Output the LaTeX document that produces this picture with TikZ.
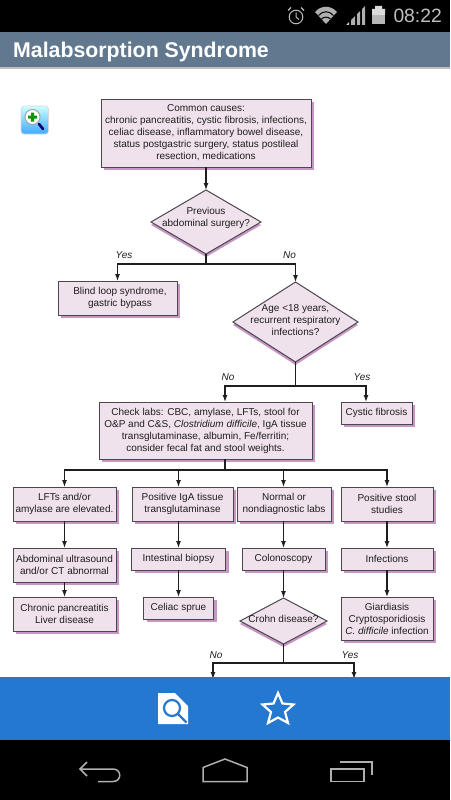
\documentclass[tikz,border=0pt]{standalone}
\usepackage{fontspec}
\setmainfont{Liberation Sans}
\usetikzlibrary{arrows.meta,shapes.geometric,shadows}
\definecolor{BoxPink}{RGB}{240,226,236}
\definecolor{ShadePink}{RGB}{200,150,195}
\definecolor{BoxEdge}{RGB}{75,70,80}
\definecolor{InkGray}{RGB}{30,30,30}
\definecolor{TitleSlate}{RGB}{97,120,143}
\definecolor{BarBlue}{RGB}{36,120,208}
\definecolor{IconGray}{RGB}{175,175,175}
\tikzset{
  labbox/.style={draw=BoxEdge,line width=1pt,fill=BoxPink,text=InkGray,align=center,inner sep=0pt,outer sep=0pt,
    font=\fontsize{10}{12}\selectfont,general shadow={fill=ShadePink,shadow xshift=3pt,shadow yshift=-3pt}},
  askbox/.style={shape=diamond,draw=BoxEdge,line width=1pt,fill=BoxPink,text=InkGray,align=center,inner sep=-12pt,outer sep=0pt,
    aspect=1.7,font=\fontsize{10}{12}\selectfont,general shadow={fill=ShadePink,shadow xshift=0pt,shadow yshift=-3pt}},
  pathlabel/.style={font=\fontsize{10}{12}\selectfont\itshape,text=InkGray},
  flow/.style={draw=InkGray,line width=1.25pt},
  flowto/.style={flow,-{Latex[length=7pt,width=5pt]}},
  navicon/.style={draw=IconGray,line width=1.5pt},
}
\begin{document}
\begin{tikzpicture}[x=1pt,y=-1pt]
  \useasboundingbox (0,0) rectangle (450,800);
  \fill[white] (0,0) rectangle (450,800);
  \node[labbox,minimum width=210pt,minimum height=68pt] (causes) at (206,133)
  {Common causes:\\chronic pancreatitis, cystic fibrosis, infections,\\celiac disease, inflammatory bowel disease,\\status postgastric surgery, status postileal\\resection, medications};
  \node[askbox,minimum width=110pt,minimum height=64pt] (surgery) at (206,222) {Previous\\abdominal surgery?\\[-2pt]\mbox{}};
  \node[labbox,minimum width=119pt,minimum height=34pt] (blind) at (117.5,298) {\hspace*{5pt}Blind loop syndrome,\\\hspace*{5pt}gastric bypass};
  \node[askbox,minimum width=125pt,minimum height=80pt] (age) at (295.5,322) {\mbox{}\\[-9pt]Age <18 years,\\recurrent respiratory\\infections?};
  \node[labbox,minimum width=213pt,minimum height=57pt] (labs) at (205.5,430.5)
  {Check labs: CBC, amylase, LFTs, stool for\\O\&P and C\&S, \textit{Clostridium difficile}, IgA tissue\\transglutaminase, albumin, Fe/ferritin;\\consider fecal fat and stool weights.};
  \node[labbox,minimum width=71pt,minimum height=22pt] (cystic) at (376.5,413) {Cystic fibrosis};

  \node[labbox,minimum width=103pt,minimum height=34pt] (lfts) at (64.5,504) {LFTs and/or\\amylase are elevated.};
  \node[labbox,minimum width=101pt,minimum height=34pt] (iga) at (182.5,504) {Positive IgA tissue\\transglutaminase};
  \node[labbox,minimum width=94pt,minimum height=34pt] (normal) at (284,504) {Normal or\\nondiagnostic labs};
  \node[labbox,minimum width=92pt,minimum height=34pt] (stool) at (387,504) {Positive stool\\studies};

  \node[labbox,minimum width=103pt,minimum height=34pt] (ultra) at (64.5,565) {Abdominal ultrasound\\and/or CT abnormal};
  \node[labbox,minimum width=94pt,minimum height=22pt] (biopsy) at (178.5,559) {Intestinal biopsy};
  \node[labbox,minimum width=83pt,minimum height=22pt] (colon) at (283.5,559) {Colonoscopy};
  \node[labbox,minimum width=92pt,minimum height=22pt] (infect) at (387,559) {Infections};

  \node[labbox,minimum width=103pt,minimum height=34pt] (chronic) at (64.5,614) {Chronic pancreatitis\\Liver disease};
  \node[labbox,minimum width=70pt,minimum height=22pt] (celiac) at (178.5,608) {Celiac sprue};
  \node[askbox,minimum width=87pt,minimum height=46pt] (crohn) at (283.5,621) {\mbox{}\\[-9pt]Crohn disease?};
  \node[labbox,minimum width=92pt,minimum height=43pt] (giardia) at (387,618.5) {Giardiasis\\Cryptosporidiosis\\\textit{C. difficile} infection};

  \coordinate (splitA) at (206,264);
  \coordinate (splitB) at (295.5,386);
  \coordinate (labsin) at (225,402);
  \coordinate (cysticin) at (366,402);
  \coordinate (labsout) at (225,459);
  \coordinate (splitC) at (225,470);
  \coordinate (splitD) at (283.5,663);
  \coordinate (crohnno) at (213,679);
  \coordinate (crohnyes) at (354,679);

  \draw[flowto] (causes.south) -- (surgery.north);
  \draw[flow] (surgery.south) -- (splitA);
  \draw[flowto] (splitA) -| (blind.north);
  \draw[flowto] (splitA) -| (age.north);
  \draw[flow] (age.south) -- (splitB);
  \draw[flowto] (splitB) -| (labsin);
  \draw[flowto] (splitB) -| (cysticin);
  \draw[flow] (labsout) -- (splitC);
  \draw[flowto] (splitC) -| (lfts.north);
  \draw[flowto] (splitC) -| (iga.north -| biopsy.north);
  \draw[flowto] (splitC) -| (normal.north -| colon.north);
  \draw[flowto] (splitC) -| (stool.north);
  \draw[flowto] (lfts) -- (ultra);
  \draw[flowto] (ultra) -- (chronic);
  \draw[flowto] (iga.south -| biopsy.north) -- (biopsy.north);
  \draw[flowto] (biopsy.south) -- (celiac.north);
  \draw[flowto] (normal.south -| colon.north) -- (colon.north);
  \draw[flowto] (colon) -- (crohn);
  \draw[flowto] (stool) -- (infect);
  \draw[flowto] (infect) -- (giardia);
  \draw[flow] (crohn.south) -- (splitD);
  \draw[flowto] (splitD) -| (crohnno);
  \draw[flowto] (splitD) -| (crohnyes);

  \node[pathlabel] (yesA) at (124,255) {Yes};
  \node[pathlabel] (noA) at (289.5,255) {No};
  \node[pathlabel] (noB) at (228,377.5) {No};
  \node[pathlabel] (yesB) at (362,377.5) {Yes};
  \node[pathlabel] (noC) at (216,655.5) {No};
  \node[pathlabel] (yesC) at (350,655.5) {Yes};

  % phone chrome
  \fill[black] (0,0) rectangle (450,32);
  \fill[TitleSlate] (0,32) rectangle (450,68);
  \fill[black!25] (0,67.5) rectangle (450,69);
  \node[anchor=west,inner sep=0pt,text=white,font=\fontsize{21.3}{24}\selectfont\bfseries] (title) at (13,51.5) {Malabsorption Syndrome};
  \node[anchor=east,inner sep=0pt,text=IconGray!80!white,font=\fontsize{19.3}{22}\selectfont] (clock) at (442,16) {08:22};
  \draw[IconGray!85!white,line width=1pt] (296,17) circle (6.8pt) (296,12.5) -- (296,17) -- (299,19.5);
  \draw[IconGray!85!white,line width=1.2pt] (288,10.5) -- (291,7.5) (304,10.5) -- (301,7.5);
  \fill[IconGray] (315,12) .. controls (321,5) and (331,5) .. (337,12) -- (326,24) -- cycle;
  \draw[black,line width=1pt] (318.5,15.5) .. controls (323,10.5) and (329,10.5) .. (333.5,15.5) (321.5,19) .. controls (324,16.5) and (328,16.5) .. (330.5,19);
  \fill[IconGray!70] (346,25) -- (349,22) -- (349,25) -- cycle;
  \fill[IconGray] (351,25) -- (351,20) -- (355,16) -- (355,25) -- cycle;
  \fill[IconGray] (357,25) -- (357,14) -- (360,11) -- (360,25) -- cycle;
  \fill[IconGray] (362,25) -- (362,9) -- (365,6) -- (365,25) -- cycle;
  \fill[IconGray!45] (375,6) rectangle (382,9) (372,9) rectangle (385,15);
  \fill[IconGray!90!white] (372,15) rectangle (385,24);

  \fill[BarBlue] (0,677) rectangle (450,740);
  \fill[black] (0,740) rectangle (450,800);

  % zoom button
  \draw[black!15,rounded corners=3pt,top color=white!80!cyan,bottom color=cyan!55!blue!75,line width=0.6pt] (21,106) rectangle (48.5,134);
  \draw[black!60!blue,line width=2.6pt,line cap=round] (39,124) -- (43,129);
  \fill[white,draw=black!35,line width=1pt] (32.5,117) circle (7.5pt);
  \fill[green!60!black] (31,112.5) rectangle (34,121.5) (28,115.5) rectangle (37,118.5);

  % bottom bar icons
  \fill[white] (158,693) -- (175,693) -- (188,706) -- (188,724) -- (158,724) -- cycle;
  \draw[BarBlue,line width=2.2pt] (172,708) circle (8pt);
  \draw[BarBlue,line width=2.2pt] (178,714) -- (186.5,722.5);
  \draw[white,line width=2.2pt,line join=miter] (278,693) -- (282.5,703.5) -- (293.5,704.5) -- (285,712) -- (288,723) -- (278,717.5) -- (268,723) -- (271,712) -- (262.5,704.5) -- (273.5,703.5) -- cycle;
  \draw[navicon] (87,762) -- (80,769) -- (87,776) (80,769) -- (113,769) .. controls (122,769) and (122,781.5) .. (113,781.5) -- (98,781.5);
  \draw[navicon] (203,781.5) -- (203,767.5) -- (225,759) -- (247,767.5) -- (247,781.5) -- cycle;
  \draw[navicon] (331,769) rectangle (364,781.5);
  \draw[navicon] (340,762) -- (372,762) -- (372,775);
\end{tikzpicture}
\end{document}
